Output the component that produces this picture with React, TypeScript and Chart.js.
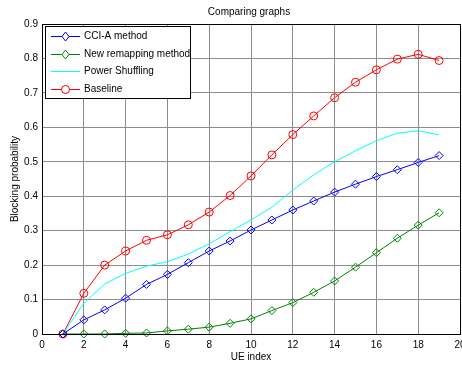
import { useEffect, useRef } from "react";
import { Chart, registerables } from "chart.js";
Chart.register(...registerables);

const ueIndex = [1, 2, 3, 4, 5, 6, 7, 8, 9, 10, 11, 12, 13, 14, 15, 16, 17, 18, 19];
const cciA = [0, 0.041, 0.07, 0.104, 0.144, 0.173, 0.207, 0.241, 0.27, 0.302, 0.331, 0.36, 0.386, 0.412, 0.435, 0.457, 0.477, 0.498, 0.518];
const newRemapping = [0, 0, 0, 0.002, 0.003, 0.009, 0.014, 0.02, 0.031, 0.044, 0.068, 0.091, 0.121, 0.154, 0.194, 0.236, 0.278, 0.316, 0.352];
const powerShuffling = [0, 0.089, 0.145, 0.176, 0.197, 0.21, 0.232, 0.262, 0.297, 0.331, 0.368, 0.418, 0.462, 0.5, 0.532, 0.561, 0.583, 0.59, 0.578];
const baseline = [0, 0.118, 0.2, 0.241, 0.272, 0.288, 0.317, 0.354, 0.402, 0.459, 0.52, 0.579, 0.633, 0.686, 0.731, 0.767, 0.798, 0.812, 0.794];

const chartTitle = "Comparing graphs";
const seriesNames = ["CCI-A method", "New remapping method", "Power Shuffling", "Baseline"];
const seriesColors = ["#0000ff", "#008000", "#00ffff", "#ff0000"];
const seriesMarkers: (string | false)[] = ["rectRot", "rectRot", false, "circle"];
const seriesValues = [cciA, newRemapping, powerShuffling, baseline];

const FONT = "'Liberation Sans', Arial, sans-serif";

const frameAndLegend = {
  id: "frameAndLegend",
  afterDatasetsDraw(chart: any) {
    const { ctx, chartArea } = chart;
    ctx.save();
    ctx.strokeStyle = "#000";
    ctx.lineWidth = 1;
    ctx.strokeRect(
      Math.round(chartArea.left) + 0.5,
      Math.round(chartArea.top) + 0.5,
      Math.round(chartArea.right - chartArea.left),
      Math.round(chartArea.bottom - chartArea.top)
    );
    // title
    ctx.font = `10px ${FONT}`;
    ctx.fillStyle = "#000";
    ctx.textAlign = "center";
    ctx.textBaseline = "middle";
    ctx.fillText(chartTitle, (chartArea.left + chartArea.right) / 2 - 2, chartArea.top - 12);
    // legend box
    const bx = chartArea.left + 3;
    const by = chartArea.top + 2;
    const bw = 145;
    const bh = 72;
    ctx.fillStyle = "#fff";
    ctx.fillRect(bx, by, bw, bh);
    ctx.strokeRect(bx + 0.5, by + 0.5, bw, bh);
    ctx.textAlign = "left";
    const rowY = [36, 54, 71, 89];
    seriesNames.forEach((name, i) => {
      const y = rowY[i] + 0.5;
      ctx.strokeStyle = seriesColors[i];
      ctx.lineWidth = 1;
      ctx.beginPath();
      ctx.moveTo(bx + 6, y);
      ctx.lineTo(bx + 35, y);
      ctx.stroke();
      const cx = bx + 20.5;
      if (seriesMarkers[i] === "rectRot") {
        ctx.beginPath();
        ctx.moveTo(cx, y - 4.5);
        ctx.lineTo(cx + 3.5, y);
        ctx.lineTo(cx, y + 4.5);
        ctx.lineTo(cx - 3.5, y);
        ctx.closePath();
        ctx.fillStyle = "#fff";
        ctx.fill();
        ctx.stroke();
      } else if (seriesMarkers[i] === "circle") {
        ctx.beginPath();
        ctx.arc(cx, y, 4, 0, Math.PI * 2);
        ctx.fillStyle = "#fff";
        ctx.fill();
        ctx.stroke();
      }
      ctx.fillStyle = "#000";
      ctx.fillText(name, bx + 39, y);
    });
    ctx.restore();
  },
};

export default function App() {
  const canvasRef = useRef<HTMLCanvasElement | null>(null);
  useEffect(() => {
    if (!canvasRef.current) return;
    Chart.defaults.font.family = FONT;
    const chart = new Chart(canvasRef.current, {
      type: "line",
      data: {
        datasets: seriesNames.map((name, i) => ({
          label: name,
          data: ueIndex.map((x, j) => ({ x, y: seriesValues[i][j] })),
          borderColor: seriesColors[i],
          backgroundColor: "rgba(0,0,0,0)",
          borderWidth: 1,
          pointStyle: seriesMarkers[i] === false ? false : (seriesMarkers[i] as any),
          pointRadius: seriesMarkers[i] === false ? 0 : 4,
          pointBorderColor: seriesColors[i],
          pointBackgroundColor: "rgba(0,0,0,0)",
          pointBorderWidth: 1,
          tension: 0,
          clip: false as any,
        })),
      },
      options: {
        animation: false,
        responsive: false,
        layout: { padding: { left: 0, right: 0, top: 24, bottom: 0 } },
        plugins: {
          legend: { display: false },
          tooltip: { enabled: false },
          title: { display: false },
        },
        scales: {
          x: {
            type: "linear",
            min: 0,
            max: 20,
            ticks: { stepSize: 2, color: "#000", font: { size: 10 }, padding: 5, maxRotation: 0 },
            grid: { color: "#8c8c8c", drawTicks: false },
            border: { display: false },
            title: {
              display: true,
              text: "UE index",
              color: "#000",
              font: { size: 10 },
              padding: { top: 0, bottom: 4 },
            },
            afterFit: (s: any) => {
              s.height = 33;
              s.paddingLeft = 0;
              s.paddingRight = 0;
            },
          },
          y: {
            type: "linear",
            min: 0,
            max: 0.9,
            ticks: { stepSize: 0.1, color: "#000", font: { size: 10 }, padding: 4 },
            grid: { color: "#8c8c8c", drawTicks: false },
            border: { display: false },
            title: {
              display: true,
              text: "Blocking probability",
              color: "#000",
              font: { size: 10 },
              padding: { top: 9, bottom: 0 },
            },
            afterFit: (s: any) => {
              s.width = 42;
              s.paddingTop = 0;
              s.paddingBottom = 0;
            },
          },
        },
      },
      plugins: [frameAndLegend],
    });
    return () => chart.destroy();
  }, []);
  return (
    <div style={{ position: "fixed", left: 0, top: 0, width: 462, height: 367, background: "#fff", overflow: "hidden" }}>
      <canvas ref={canvasRef} width={465} height={367} style={{ width: 465, height: 367, display: "block" }} />
    </div>
  );
}
